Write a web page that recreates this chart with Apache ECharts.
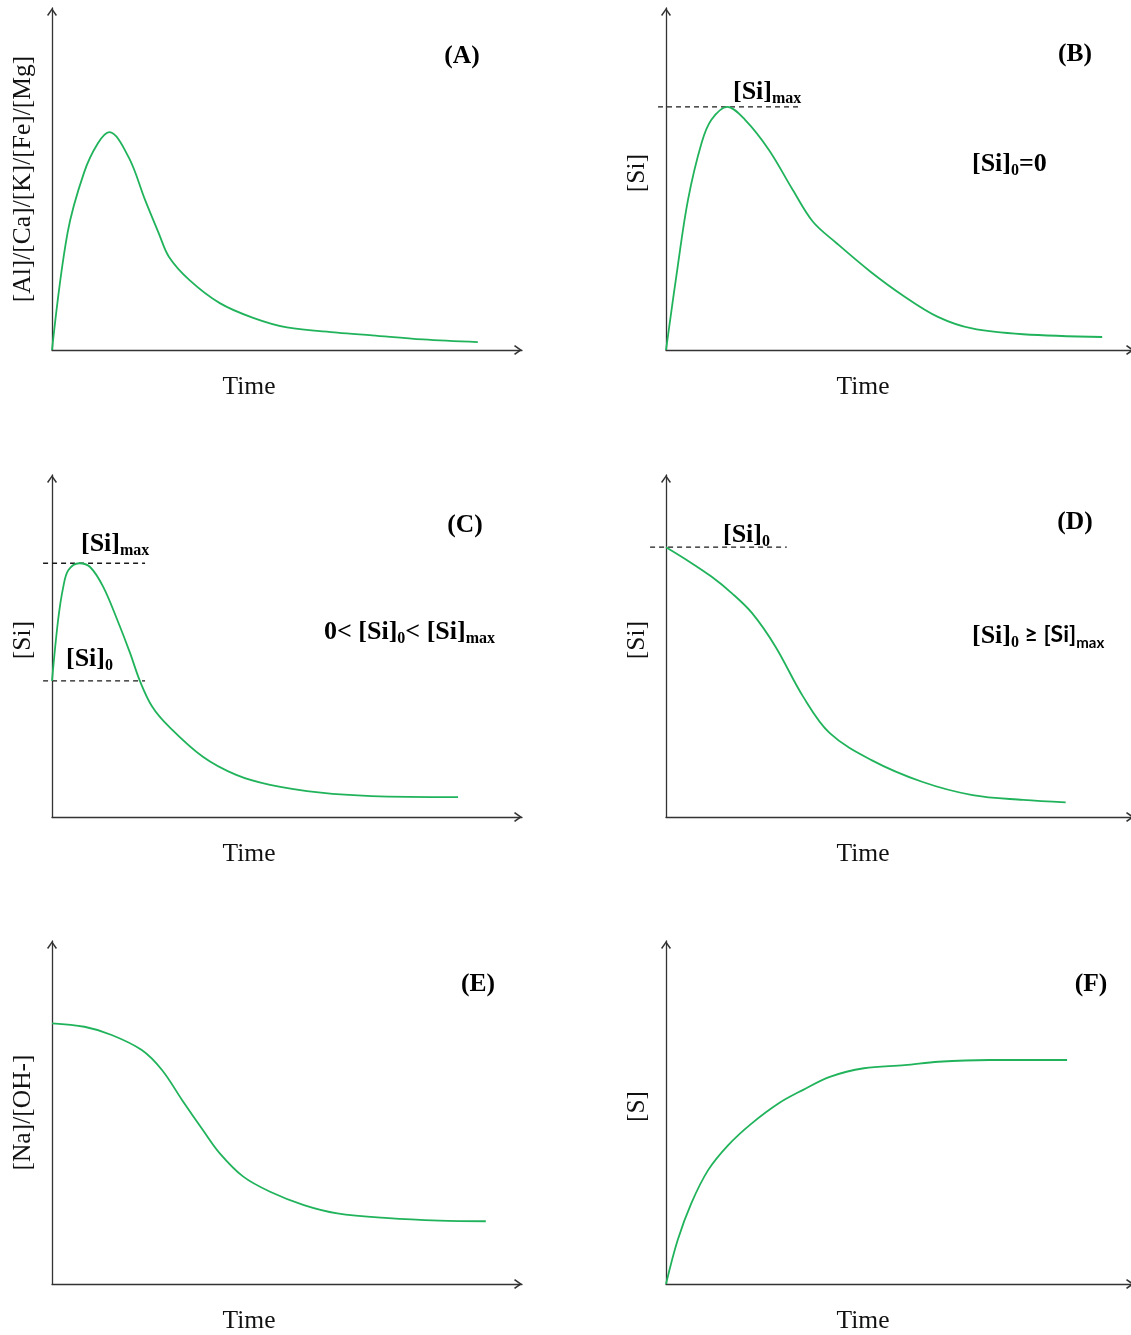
<!DOCTYPE html>
<html>
<head>
<meta charset="utf-8">
<script src="https://cdn.jsdelivr.net/npm/echarts@6/dist/echarts.min.js"></script>
<style>
  html, body { margin: 0; padding: 0; background: #ffffff; }
  #chart { width: 1131px; height: 1335px; }
</style>
</head>
<body>
<div id="chart"></div>
<script>
// ---- Curve data (time and concentration in relative units, 0–100) ----
// (A) leached cations: fast rise, peak, slow decay
const timeA  = [0, 3.3, 6.8, 9.8, 12.2, 16.3, 19.8, 22.7, 24.9, 29.2, 35.7, 42.8, 50.0, 60.7, 68.1, 78.9, 90.6];
const valueA = [0, 34.2, 51.8, 60.5, 63.7, 56.4, 43.9, 34.2, 27.2, 20.5, 13.7, 9.4, 6.6, 5.1, 4.3, 3.1, 2.3];

// (B) silicon with no initial silicon
const siMaxB = 71.1;
const timeB  = [0, 2.5, 4.7, 7.6, 9.7, 13.1, 16.9, 22.0, 27.1, 31.4, 36.4, 43.7, 51.0, 58.1, 65.4, 76.3, 93.2];
const valueB = [0, 24.4, 43.9, 60.5, 67.3, siMaxB, 67.3, 58.5, 46.8, 37.5, 31.3, 22.9, 15.6, 9.7, 6.3, 4.6, 3.8];
const guideSpanB = [-1.7, 29.0];

// (C) silicon starting between zero and the maximum
const siMaxC = 74.2;
const si0C   = 39.8;
const timeC  = [0, 1.3, 2.4, 3.5, 5.8, 8.1, 10.9, 13.9, 16.6, 18.7, 21.3, 24.9, 32.1, 39.2, 46.4, 57.2, 68.0, 86.4];
const valueC = [si0C, 57.6, 67.3, 72.2, siMaxC, 73.1, 67.3, 57.6, 48.0, 39.8, 32.3, 26.4, 17.6, 12.3, 9.4, 7.1, 6.1, 5.8];
const guideSpanC = [-1.9, 19.8];

// (D) silicon starting at or above the maximum
const si0D   = 78.9;
const timeD  = [0, 4.5, 9.7, 14.1, 18.4, 23.4, 29.3, 35.0, 43.8, 54.7, 65.5, 76.3, 85.4];
const valueD = [si0D, 75.1, 70.3, 65.4, 59.6, 49.8, 35.2, 24.5, 16.7, 10.3, 6.4, 5.0, 4.3];
const guideSpanD = [-3.4, 25.8];

// (E) sodium / hydroxide consumption
const timeE  = [0, 6.9, 12.7, 19.1, 23.4, 27.7, 32.1, 35.7, 40.7, 46.4, 53.6, 60.7, 71.6, 82.4, 92.3];
const valueE = [76.0, 75.0, 72.6, 68.2, 62.4, 53.6, 44.9, 38.1, 31.3, 26.9, 23.0, 20.6, 19.2, 18.5, 18.3];

// (F) sulfur release
const timeF  = [0, 2.5, 5.4, 9.0, 13.3, 18.2, 24.1, 29.3, 35.0, 42.3, 51.0, 58.2, 69.1, 85.7];
const valueF = [0, 12.8, 23.5, 33.2, 40.5, 46.7, 52.7, 56.6, 60.4, 62.9, 63.8, 64.8, 65.3, 65.3];

// ---- Axis titles and panel letters ----
const yTitles = ['[Al]/[Ca]/[K]/[Fe]/[Mg]', '[Si]', '[Si]', '[Si]', '[Na]/[OH-]', '[S]'];
const xTitle = 'Time';
const panelLetters = ['(A)', '(B)', '(C)', '(D)', '(E)', '(F)'];

// ---- Styling ----
const SERIF = '"Liberation Serif", "Times New Roman", serif';
const SANS = 'Lato, "Noto Sans", sans-serif';
const CURVE_COLOR = '#21b35b';
const AXIS_COLOR = '#333333';
const TEXT_COLOR = '#111111';
// open chevron used as the axis arrowhead
const CHEVRON = 'path://M0,7 L5,0 L10,7 L8.8,8 L5,2.6 L1.2,8 Z';

// grid boxes: two columns, three rows
const gridBoxes = [
  { left: 52,  top: 8,   width: 470, height: 342 },
  { left: 666, top: 8,   width: 468, height: 342 },
  { left: 52,  top: 475, width: 470, height: 342 },
  { left: 666, top: 475, width: 468, height: 342 },
  { left: 52,  top: 941, width: 470, height: 343 },
  { left: 666, top: 941, width: 468, height: 343 }
];
// dashed guide levels reach a little to the left of the value axis, so they
// live in companion grids that share the panel's scale but start further left
const GUIDE_PAD = 24;
const guidePanels = [1, 2, 3];

function pairs(xs, ys) { return xs.map((x, i) => [x, ys[i]]); }

const axisLine = {
  show: true,
  onZero: true,
  symbol: ['none', CHEVRON],
  symbolSize: [11, 8],
  symbolOffset: [0, -4],
  lineStyle: { color: AXIS_COLOR, width: 1.3 }
};
const hidden = { axisLine: { show: false }, axisTick: { show: false }, axisLabel: { show: false }, splitLine: { show: false } };

const grids = gridBoxes.map(b => Object.assign({ containLabel: false, outerBoundsMode: 'none' }, b));

const xAxes = gridBoxes.map((b, i) => ({
  type: 'value', gridIndex: i, min: 0, max: 100,
  name: xTitle, nameLocation: 'middle', nameGap: 24, nameMoveOverlap: false,
  nameTextStyle: {
    fontFamily: SERIF, fontSize: 25.5, color: TEXT_COLOR,
    padding: [0, i % 2 === 0 ? 76 : 74, 0, 0]
  },
  axisLine: axisLine, axisTick: { show: false }, axisLabel: { show: false }, splitLine: { show: false }
}));

const yAxes = gridBoxes.map((b, i) => ({
  type: 'value', gridIndex: i, min: 0, max: 100,
  name: yTitles[i], nameLocation: 'middle', nameRotate: 90, nameGap: 16, nameMoveOverlap: false,
  nameTextStyle: {
    fontFamily: SERIF, fontSize: 25.5, color: TEXT_COLOR,
    padding: (i === 0 || i === 4) ? [0, 0, 0, 0] : [0, 0, 0, 12]
  },
  axisLine: axisLine, axisTick: { show: false }, axisLabel: { show: false }, splitLine: { show: false }
}));

// companion grids for the guide lines
guidePanels.forEach((p, k) => {
  const b = gridBoxes[p];
  grids.push({ left: b.left - GUIDE_PAD, top: b.top, width: b.width + GUIDE_PAD, height: b.height,
               containLabel: false, outerBoundsMode: 'none' });
  const gi = gridBoxes.length + k;
  xAxes.push(Object.assign({ type: 'value', gridIndex: gi, min: -GUIDE_PAD * 100 / b.width, max: 100 }, hidden));
  yAxes.push(Object.assign({ type: 'value', gridIndex: gi, min: 0, max: 100 }, hidden));
});
function guideAxis(panel) { return gridBoxes.length + guidePanels.indexOf(panel); }

function curve(i, xs, ys) {
  return {
    type: 'line', xAxisIndex: i, yAxisIndex: i,
    data: pairs(xs, ys), smooth: 0.35,
    showSymbol: false, symbol: 'none', clip: false, silent: true,
    lineStyle: { color: CURVE_COLOR, width: 1.8 }, z: 3
  };
}

function guide(panel, span, level) {
  const a = guideAxis(panel);
  return {
    type: 'line', xAxisIndex: a, yAxisIndex: a,
    data: [[span[0], level], [span[1], level]],
    showSymbol: false, symbol: 'none', clip: false, silent: true,
    lineStyle: { color: '#1a1a1a', width: 1.4, type: [5, 4] }, z: 2
  };
}

const series = [
  curve(0, timeA, valueA),
  curve(1, timeB, valueB), guide(1, guideSpanB, siMaxB),
  curve(2, timeC, valueC), guide(2, guideSpanC, siMaxC), guide(2, guideSpanC, si0C),
  curve(3, timeD, valueD), guide(3, guideSpanD, si0D),
  curve(4, timeE, valueE),
  curve(5, timeF, valueF)
];

// ---- Annotation text (rich text with subscripts) ----
const rich = {
  b:  { fontFamily: SERIF, fontWeight: 'bold', fontSize: 26, lineHeight: 26, verticalAlign: 'top', color: '#000' },
  s:  { fontFamily: SERIF, fontWeight: 'bold', fontSize: 16, lineHeight: 40, color: '#000' },
  c:  { fontFamily: SANS, fontWeight: 'bold', fontSize: 23, lineHeight: 26, verticalAlign: 'top', color: '#000' },
  t:  { fontFamily: SANS, fontWeight: 'bold', fontSize: 15, lineHeight: 40, color: '#000' }
};

function note(x, baseline, text) {
  return {
    type: 'text', silent: true, z: 10,
    style: {
      x: x, y: baseline - 21, text: text, rich: rich,
      align: 'left', verticalAlign: 'top', textAlign: 'left', textVerticalAlign: 'top'
    }
  };
}

function letter(x, y, text) {
  return {
    type: 'text', silent: true, z: 10,
    style: {
      x: x, y: y, text: text,
      font: 'bold 25.5px ' + SERIF, fill: '#000',
      align: 'center', verticalAlign: 'middle', textAlign: 'center', textVerticalAlign: 'middle'
    }
  };
}

const letterPos = [[462, 56], [1075, 54], [465, 525], [1075, 522], [478, 984], [1091, 984]];

const graphic = letterPos.map((p, i) => letter(p[0], p[1], panelLetters[i])).concat([
  note(733, 100, '{b|[Si]}{s|max}'),
  note(972, 172, '{b|[Si]}{s|0}{b|=0}'),
  note(81, 552, '{b|[Si]}{s|max}'),
  note(66, 667, '{b|[Si]}{s|0}'),
  note(324, 640, '{b|0< [Si]}{s|0}{b|< [Si]}{s|max}'),
  note(723, 543, '{b|[Si]}{s|0}'),
  note(972, 644, '{b|[Si]}{s|0}{c| ≥ [Si]}{t|max}')
]);

const chart = echarts.init(document.getElementById('chart'), null, { renderer: 'canvas' });
chart.setOption({
  animation: false,
  backgroundColor: '#ffffff',
  grid: grids,
  xAxis: xAxes,
  yAxis: yAxes,
  series: series,
  graphic: graphic
});
</script>
</body>
</html>
